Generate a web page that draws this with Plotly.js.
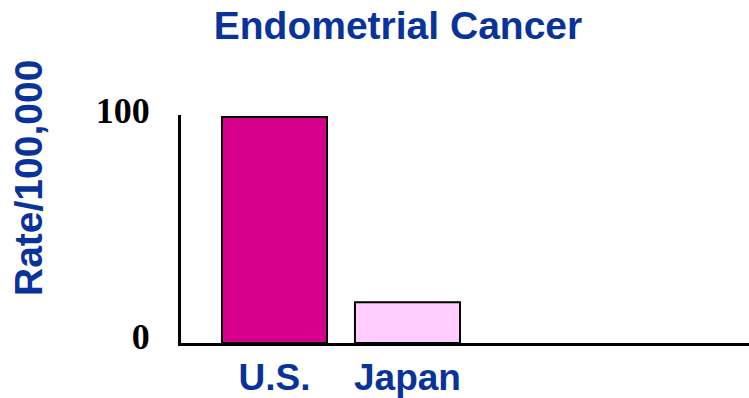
<!DOCTYPE html>
<html>
<head>
<meta charset="utf-8">
<script src="https://cdn.plot.ly/plotly-3.0.1.min.js"></script>
<style>html,body{margin:0;padding:0;background:#fff;}#chart{width:749px;height:398px;}</style>
</head>
<body>
<div id="chart"></div>
<script>
const categories = ["U.S.", "Japan"];
const rates = [100, 18];
const barColors = ["#D6008C", "#FFCCFF"];
const yTickVals = [0, 100];
const yTickText = ["0", "100"];
const titleText = "Endometrial Cancer";
const yTitleText = "Rate/100,000";

const blue = "#0a3399";
const sans = "Liberation Sans, Arial, sans-serif";
const serif = "Liberation Serif, Times New Roman, serif";

const trace = {
  type: "bar",
  x: categories,
  y: rates,
  width: 0.79,
  marker: {color: barColors, line: {color: "#000", width: 2}},
  hoverinfo: "none"
};

const layout = {
  width: 749, height: 398,
  margin: {l: 181, r: 0, t: 115, b: 55, pad: 0},
  paper_bgcolor: "#fff", plot_bgcolor: "#fff",
  showlegend: false,
  title: {
    text: titleText,
    font: {family: sans, size: 39, color: blue, weight: "bold"},
    xref: "paper", x: (398 - 181) / 568, xanchor: "center",
    yref: "container", y: 1 - 25 / 398, yanchor: "middle"
  },
  xaxis: {
    type: "category",
    range: [-0.703, 3.568],
    showline: true, linecolor: "#000", linewidth: 3,
    showgrid: false, zeroline: false, ticks: "",
    ticklabelstandoff: 0,
    tickfont: {family: sans, size: 37, color: blue, weight: "bold"}
  },
  yaxis: {
    range: [0, 100.9],
    showline: true, linecolor: "#000", linewidth: 3,
    showgrid: false, zeroline: false, ticks: "",
    tickvals: yTickVals, ticktext: yTickText,
    ticklabelstandoff: 21,
    ticklabelshift: -7,
    tickfont: {family: serif, size: 36, color: "#000", weight: "bold"}
  },
  annotations: [{
    text: yTitleText,
    xref: "paper", yref: "paper",
    x: (28 - 181) / 568, y: (343 - 178) / 228,
    xanchor: "center", yanchor: "middle",
    textangle: -90, showarrow: false,
    font: {family: sans, size: 39, color: blue, weight: "bold"}
  }]
};

Plotly.newPlot("chart", [trace], layout, {staticPlot: true, displayModeBar: false});
</script>
</body>
</html>
